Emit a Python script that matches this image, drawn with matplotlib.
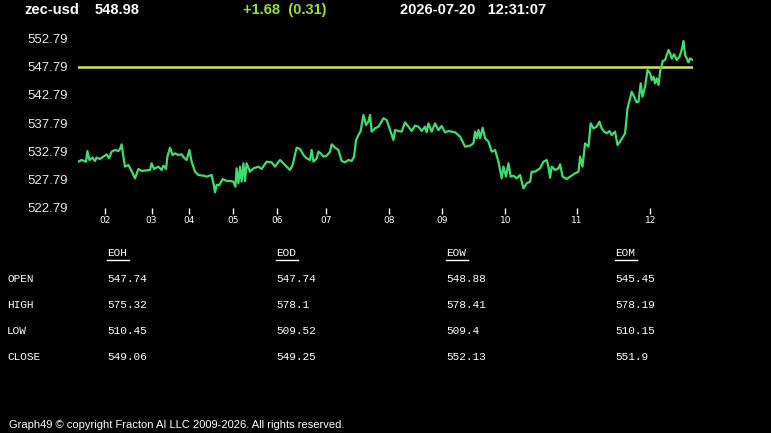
import numpy as np
import matplotlib
matplotlib.use("Agg")
import matplotlib.pyplot as plt

SYMBOL = "zec-usd"
LAST = "548.98"
CHANGE = "+1.68  (0.31)"
STAMP = "2026-07-20   12:31:07"
REF_LEVEL = 547.74

# bar index / price
bars = [0.2, 1.8, 4.0, 4.7, 5.7, 7.3, 8.5, 9.3, 11.0, 12.7, 14.3, 15.5, 16.8, 18.5, 20.2, 21.0,
        21.8, 22.7, 23.5, 25.2, 26.8, 28.5, 30.2, 31.8, 34.3, 36.0, 36.8, 38.0, 40.2, 41.8, 42.7,
        44.0, 44.7, 46.0, 47.3, 48.5, 50.2, 51.8, 53.0, 54.3, 55.7, 56.8, 58.5, 60.2, 62.7, 64.3,
        66.8, 67.7, 68.5, 69.3, 70.7, 72.3, 74.3, 76.0, 77.7, 78.7, 79.3, 80.2, 81.0, 81.8, 82.7,
        83.5, 84.3, 86.0, 87.7, 90.2, 91.8, 94.3, 96.8, 98.5, 99.3, 101.0, 102.7, 104.3, 106.0,
        107.3, 109.3, 111.0, 112.7, 114.3, 116.0, 116.8, 117.7, 119.3, 120.2, 121.3, 122.7, 124.3,
        126.0, 126.8, 128.5, 130.2, 131.8, 133.5, 135.2, 136.8, 138.0, 139.0, 140.2, 141.3, 142.7,
        144.0, 145.2, 146.0, 146.8, 148.5, 150.2, 152.7, 154.3, 156.0, 157.7, 158.5, 160.2, 161.8,
        163.5, 165.2, 166.8, 168.5, 170.2, 171.8, 173.5, 174.3, 175.2, 176.8, 178.5, 180.2, 181.8,
        183.5, 185.2, 186.8, 188.5, 191.0, 193.5, 196.0, 197.7, 198.5, 199.3, 200.2, 201.0, 202.3,
        203.5, 205.2, 206.8, 208.5, 210.2, 211.8, 212.7, 214.0, 215.2, 216.3, 217.7, 219.3, 221.0,
        222.7, 224.3, 226.0, 226.8, 228.5, 231.0, 232.7, 234.3, 235.2, 236.0, 236.8, 238.5, 240.2,
        241.0, 242.3, 244.3, 246.0, 248.5, 250.2, 251.0, 252.2, 253.5, 255.2, 256.3, 257.7, 259.3,
        260.7, 261.8, 263.0, 264.3, 265.7, 266.8, 268.5, 269.7, 271.0, 273.5, 274.7, 276.0, 276.8,
        278.0, 279.3, 280.2, 281.3, 282.2, 283.5, 284.7, 286.0, 286.8, 287.7, 288.5, 289.3, 290.2,
        291.0, 292.3, 293.5, 295.2, 296.0, 296.8, 298.0, 299.3, 300.7, 301.8, 302.7, 303.5, 304.3,
        305.2, 306.0, 307.3]
prices = [530.94, 531.24, 530.94, 532.83, 531.24, 531.65, 531.06, 531.65, 531.42, 531.83, 532.24,
          531.53, 532.71, 533.01, 532.83, 533.19, 534.01, 531.83, 530.06, 530.35, 529.29, 527.99,
          529.65, 529.29, 529.41, 529.47, 530.65, 529.65, 530.06, 529.47, 530.24, 529.65, 531.83,
          533.42, 532.12, 532.42, 532.12, 532.24, 531.65, 531.24, 533.01, 530.94, 529.17, 528.58,
          528.46, 528.29, 528.58, 527.11, 525.51, 526.81, 526.81, 527.87, 527.52, 527.52, 527.40,
          526.51, 529.76, 527.11, 530.06, 527.40, 530.65, 527.52, 530.65, 529.17, 529.76, 530.06,
          529.65, 530.94, 530.82, 530.06, 530.47, 531.24, 530.65, 530.06, 529.47, 530.35, 533.42,
          533.19, 532.12, 531.53, 531.24, 533.01, 530.94, 531.53, 532.71, 532.42, 531.83, 532.00,
          532.71, 534.01, 533.42, 533.01, 531.06, 530.82, 531.24, 531.06, 531.83, 534.78, 535.66,
          536.37, 539.21, 537.44, 538.03, 539.21, 536.26, 536.85, 537.14, 538.62, 538.32, 536.55,
          534.78, 536.55, 536.37, 536.26, 537.91, 537.14, 536.37, 537.32, 537.14, 536.37, 537.14,
          536.14, 537.73, 536.26, 537.73, 536.55, 537.26, 536.14, 536.37, 536.26, 536.14, 535.37,
          533.60, 533.78, 534.19, 536.26, 535.08, 536.55, 535.08, 536.96, 535.08, 534.49, 532.71,
          533.01, 530.94, 527.99, 530.06, 528.29, 530.65, 528.29, 528.46, 527.99, 528.58, 526.22,
          527.11, 527.40, 529.17, 529.17, 529.76, 530.94, 531.24, 530.06, 528.11, 530.06, 529.47,
          529.76, 530.47, 528.29, 527.87, 528.29, 528.88, 529.17, 531.83, 530.06, 534.19, 533.60,
          537.73, 536.85, 537.14, 538.03, 536.85, 536.26, 535.96, 536.37, 535.66, 536.26, 533.89,
          534.49, 535.96, 540.39, 542.16, 543.34, 542.46, 541.45, 541.57, 544.82, 542.46, 544.23,
          547.18, 546.59, 545.40, 545.99, 544.82, 545.70, 544.52, 546.88, 548.77, 548.95, 550.72,
          550.13, 549.24, 549.95, 548.95, 549.54, 550.72, 552.31, 549.83, 549.24, 548.53, 549.24,
          548.95]

y_ticks = [522.79, 527.79, 532.79, 537.79, 542.79, 547.79, 552.79]
hour_pos = [13.7, 36.8, 55.3, 77.3, 99.7, 124.0, 155.7, 182.2, 213.7, 249.3, 286.2]
hour_labels = ["02", "03", "04", "05", "06", "07", "08", "09", "10", "11", "12"]

table_cols = ["EOH", "EOD", "EOW", "EOM"]
table_rows = ["OPEN", "HIGH", "LOW", "CLOSE"]
eoh = ["547.74", "575.32", "510.45", "549.06"]
eod = ["547.74", "578.1", "509.52", "549.25"]
eow = ["548.88", "578.41", "509.4", "552.13"]
eom = ["545.45", "578.19", "510.15", "551.9"]
FOOTER = "Graph49 \u00a9 copyright Fracton AI LLC 2009-2026. All rights reserved."

W, H = 771, 433
fig = plt.figure(figsize=(W / 100, H / 100), dpi=100, facecolor="black")

ax = fig.add_axes([78 / W, 1 - 207.7 / H, (692.7 - 78) / W, (207.7 - 38.3) / H])
ax.set_facecolor("black")
ax.plot(bars, prices, color="#3fdc72", lw=1.6, zorder=3)
ax.axhline(REF_LEVEL, color="#d6e36a", lw=1.8, zorder=2)
ax.set_xlim(0, 307.3)
ax.set_ylim(522.79, 552.79)
for s in ax.spines.values():
    s.set_visible(False)
ax.set_yticks(y_ticks)
ax.set_yticklabels([f"{v:.2f}" for v in y_ticks])
ax.tick_params(axis="y", length=0, pad=7, labelsize=9.5, labelcolor="#e8e8e8")
for t in ax.get_yticklabels():
    t.set_fontfamily("Liberation Sans")
ax.set_xticks(hour_pos)
ax.set_xticklabels(hour_labels)
ax.tick_params(axis="x", length=4, width=1, color="white", pad=2, labelsize=6.5,
               labelcolor="white", direction="out")

hfont = dict(family="Liberation Sans", weight="bold", fontsize=10.5, va="center")
fig.text(24 / W, 1 - 10 / H, SYMBOL, color="white", **hfont)
fig.text(95 / W, 1 - 10 / H, LAST, color="white", **hfont)
fig.text(243 / W, 1 - 10 / H, CHANGE, color="#9be02a", **hfont)
fig.text(400 / W, 1 - 10 / H, STAMP, color="white", **hfont)

mono = dict(family="Liberation Mono", fontsize=8, color="white", va="center")
col_x = [107, 276, 446, 615]
row_y = [279, 305, 331, 357]
values = [eoh, eod, eow, eom]
for cx, name, vals in zip(col_x, table_cols, values):
    fig.text(cx / W, 1 - 253 / H, name, **mono)
    fig.add_artist(plt.Line2D([cx / W, (cx + 22) / W], [1 - 259.5 / H] * 2,
                              color="white", lw=1, transform=fig.transFigure))
    for ry, v in zip(row_y, vals):
        fig.text(cx / W, 1 - ry / H, v, **mono)
for ry, name in zip(row_y, table_rows):
    fig.text(7 / W, 1 - ry / H, name, **mono)

fig.text(9 / W, 1 - 425 / H, FOOTER, family="Liberation Sans", fontsize=8, color="white", va="center")

fig.savefig("out.png", dpi=100, facecolor="black")
